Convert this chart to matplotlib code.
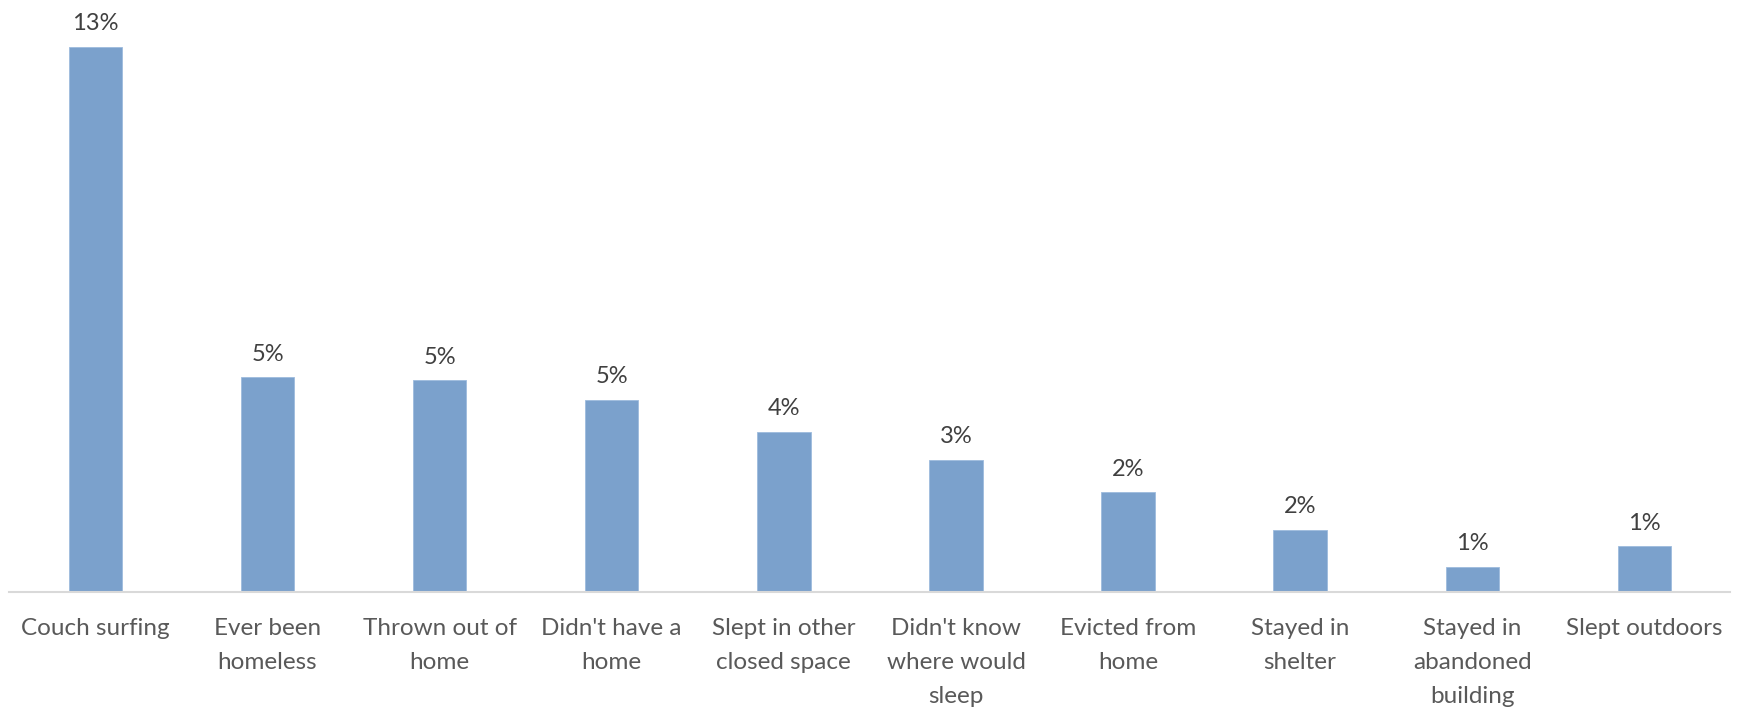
import matplotlib
matplotlib.use("Agg")
import matplotlib.pyplot as plt

# Share of respondents reporting each housing situation (%)
categories = [
    "Couch surfing",
    "Ever been\nhomeless",
    "Thrown out of\nhome",
    "Didn't have a\nhome",
    "Slept in other\nclosed space",
    "Didn't know\nwhere would\nsleep",
    "Evicted from\nhome",
    "Stayed in\nshelter",
    "Stayed in\nabandoned\nbuilding",
    "Slept outdoors",
]
values = [13.30, 5.24, 5.17, 4.69, 3.91, 3.22, 2.43, 1.52, 0.61, 1.12]

barColor = "#7BA1CC"
labelColor = "#404040"
tickColor = "#595959"

plt.rcParams['font.family'] = ['Lato', 'DejaVu Sans']

fig = plt.figure(figsize=(17.41, 7.07), dpi=100)
ax = fig.add_axes([0.0054, 0.1627, 0.9885, 0.8373])

xs = list(range(len(categories)))
bars = ax.bar(xs, values, width=0.31, color=barColor, edgecolor="#9DBBDD", linewidth=0.6, zorder=2)

for bar, v in zip(bars, values):
    ax.annotate(f"{v:.0f}%", (bar.get_x() + bar.get_width() / 2, v),
                xytext=(0, 9), textcoords="offset points",
                ha="center", va="bottom", fontsize=17, color=labelColor)

ax.set_xlim(-0.5, len(categories) - 0.5)
ax.set_ylim(0, 14.44)
ax.set_xticks(xs)
ax.set_xticklabels(categories, fontsize=17.5, color=tickColor, linespacing=1.75, va="top")
ax.tick_params(axis="x", length=0, pad=19)
ax.set_yticks([])

for side in ["top", "right", "left"]:
    ax.spines[side].set_visible(False)
ax.spines["bottom"].set_color("#D9D9D9")
ax.spines["bottom"].set_linewidth(1.5)

plt.savefig("out.png", dpi=100)
